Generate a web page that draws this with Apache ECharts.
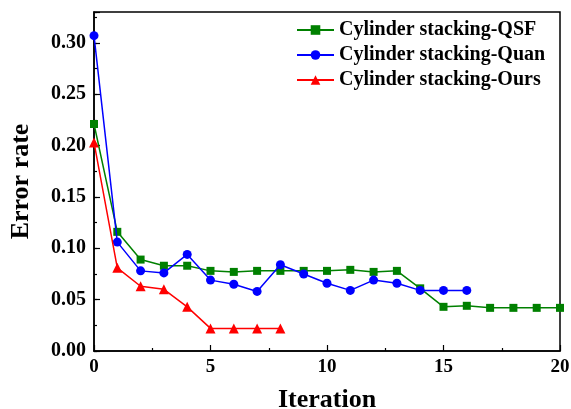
<!DOCTYPE html>
<html>
<head>
<meta charset="utf-8">
<script src="https://cdn.jsdelivr.net/npm/echarts@6/dist/echarts.min.js"></script>
<style>html,body{margin:0;padding:0;background:#fff;}#c{width:571px;height:409px;}</style>
</head>
<body>
<div id="c"></div>
<script>
const iterQSF = [0,1,2,3,4,5,6,7,8,9,10,11,12,13,14,15,16,17,18,19,20];
const errQSF = [0.221,0.116,0.089,0.083,0.083,0.078,0.077,0.078,0.078,0.078,0.078,0.079,0.077,0.078,0.061,0.043,0.044,0.042,0.042,0.042,0.042];
const iterQuan = [0,1,2,3,4,5,6,7,8,9,10,11,12,13,14,15,16];
const errQuan = [0.307,0.106,0.078,0.076,0.094,0.069,0.065,0.058,0.084,0.075,0.066,0.059,0.069,0.066,0.059,0.059,0.059];
const iterOurs = [0,1,2,3,4,5,6,7,8];
const errOurs = [0.203,0.081,0.063,0.060,0.043,0.022,0.022,0.022,0.022];
const seriesNames = ['Cylinder stacking-QSF','Cylinder stacking-Quan','Cylinder stacking-Ours'];

const font = 'Liberation Serif, Times New Roman, serif';
const pair = (xs, ys) => xs.map((x, i) => [x, ys[i]]);

const chart = echarts.init(document.getElementById('c'), null, {renderer: 'canvas'});
chart.setOption({
  animation: false,
  backgroundColor: '#fff',
  grid: {left: 94, right: 11, top: 12, bottom: 58, outerBoundsMode: 'none', containLabel: false,
    show: true, borderColor: '#000', borderWidth: 1.5, backgroundColor: 'transparent'},
  legend: {
    orient: 'vertical', left: 291, top: 15, itemWidth: 37, itemHeight: 12, itemGap: 5,
    textStyle: {fontFamily: font, fontWeight: 'bold', fontSize: 20, color: '#000'},
    data: seriesNames
  },
  xAxis: {
    type: 'value', min: 0, max: 20, interval: 5,
    name: 'Iteration', nameLocation: 'middle', nameGap: 36,
    nameTextStyle: {fontFamily: font, fontWeight: 'bold', fontSize: 26, color: '#000'},
    axisLine: {show: true, lineStyle: {color: '#000', width: 1.5}},
    axisTick: {show: true, inside: true, length: 6, lineStyle: {color: '#000', width: 1.2}},
    minorTick: {show: true, splitNumber: 2, length: 3, lineStyle: {color: '#000', width: 1.2}},
    splitLine: {show: false},
    axisLabel: {fontFamily: font, fontWeight: 'bold', fontSize: 19, color: '#000', margin: 7}
  },
  yAxis: [{
    type: 'value', min: 0, max: 0.33, interval: 0.05,
    name: 'Error rate', nameLocation: 'middle', nameGap: 60,
    nameTextStyle: {fontFamily: font, fontWeight: 'bold', fontSize: 26, color: '#000'},
    axisLine: {show: true, lineStyle: {color: '#000', width: 1.5}},
    axisTick: {show: true, inside: true, length: 6, lineStyle: {color: '#000', width: 1.2}},
    splitLine: {show: false},
    axisLabel: {fontFamily: font, fontWeight: 'bold', fontSize: 20, color: '#000', margin: 8,
      formatter: v => (Math.abs(v / 0.05 - Math.round(v / 0.05)) < 1e-6 ? v.toFixed(2) : '')}
  }, {
    type: 'value', min: 0, max: 0.33, interval: 0.025, position: 'left',
    axisLine: {show: false},
    axisTick: {show: true, inside: true, length: 3, lineStyle: {color: '#000', width: 1.2}},
    splitLine: {show: false},
    axisLabel: {show: false}
  }],
  series: [
    {name: seriesNames[0], type: 'line', data: pair(iterQSF, errQSF), symbol: 'rect', symbolSize: 8,
      itemStyle: {color: '#008000'}, lineStyle: {color: '#008000', width: 1.5}, z: 3},
    {name: seriesNames[1], type: 'line', data: pair(iterQuan, errQuan), symbol: 'circle', symbolSize: 9,
      itemStyle: {color: '#0000ff'}, lineStyle: {color: '#0000ff', width: 1.5}, z: 4},
    {name: seriesNames[2], type: 'line', data: pair(iterOurs, errOurs), symbol: 'triangle', symbolSize: 10,
      itemStyle: {color: '#ff0000'}, lineStyle: {color: '#ff0000', width: 1.5}, z: 5}
  ]
});
</script>
</body>
</html>
